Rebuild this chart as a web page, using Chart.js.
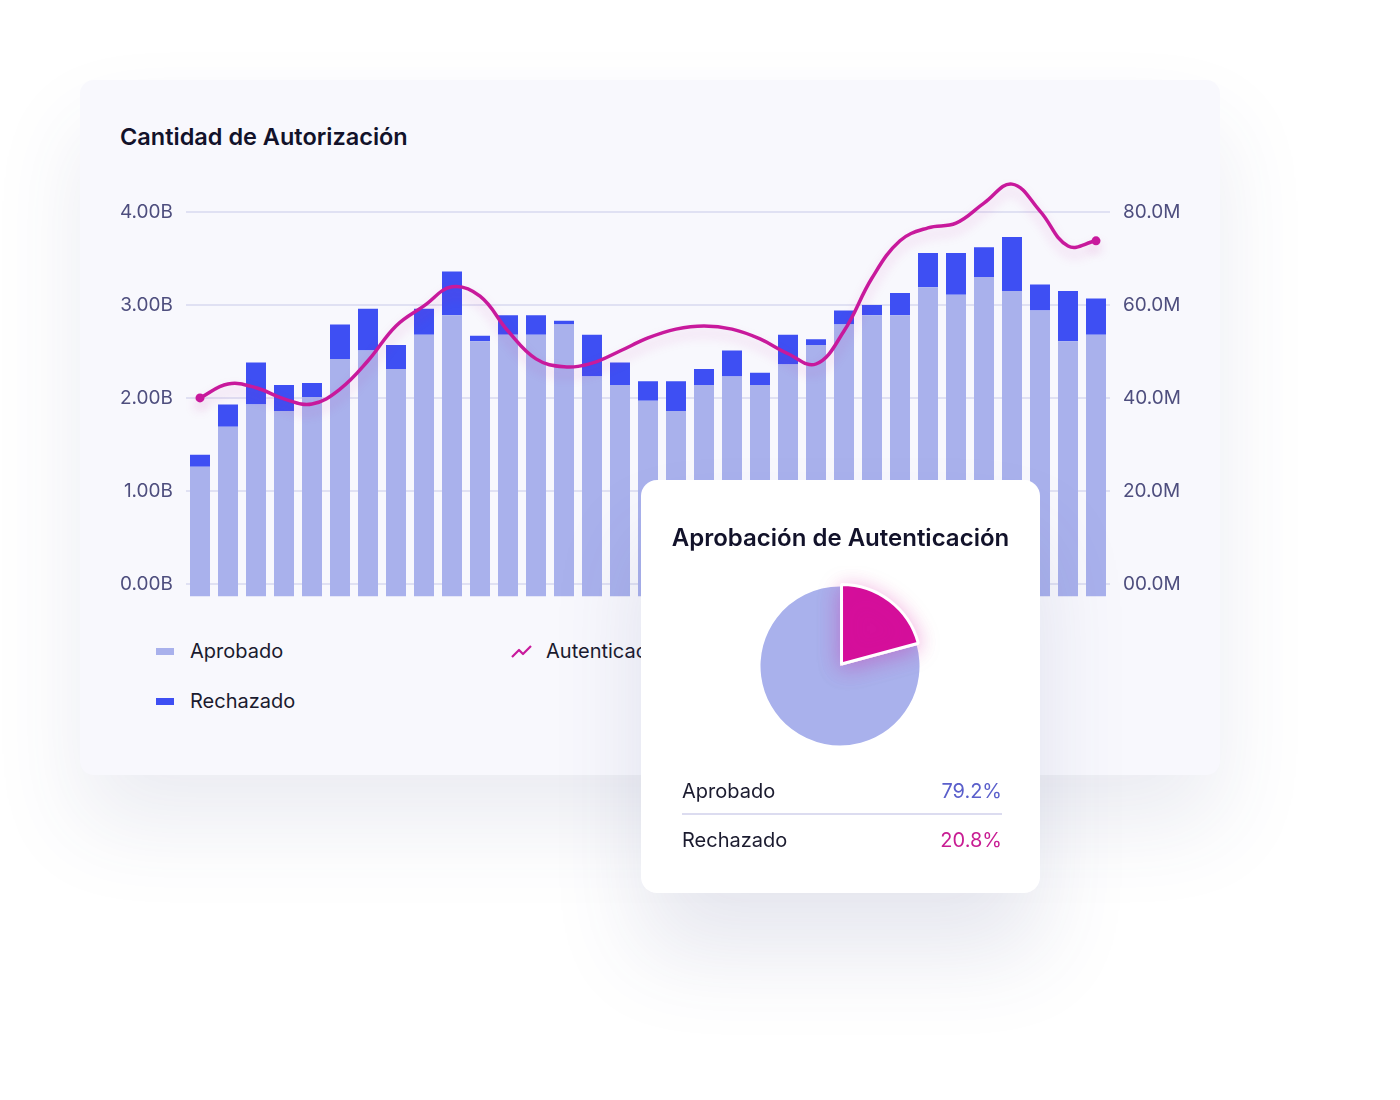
<!DOCTYPE html>
<html lang="es">
<head>
<meta charset="utf-8">
<title>Cantidad de Autorización</title>
<script src="https://cdn.jsdelivr.net/npm/chart.js@4/dist/chart.umd.min.js"></script>
<style>
	html, body { margin: 0; padding: 0; background: #fff; }
	body { width: 1400px; height: 1100px; position: relative; overflow: hidden; font-family: Inter, "Noto Sans", sans-serif; }

	.mainCard { position: absolute; left: 80px; top: 80px; width: 1140px; height: 695px; background: #f8f8fd; border-radius: 14px; box-shadow: 0 50px 90px rgba(60, 70, 130, 0.10); }
	.mainCard h3 { position: absolute; left: 40px; top: 42px; margin: 0; font-size: 23.5px; font-weight: 600; color: #12122a; }
	#barWrap { position: absolute; left: 100px; top: 158px; width: 1110px; height: 463px; }

	.legend { position: absolute; font-size: 20px; color: #1b1b2f; }
	.legend .item { position: absolute; white-space: nowrap; line-height: 24px; }
	.legend .sw { position: absolute; left: 0; top: 9px; width: 18px; height: 7px; }
	.legend .txt { position: absolute; left: 34px; top: 0; }
	.legend svg { position: absolute; left: 0; top: 4px; }

	.pieCard { position: absolute; left: 641px; top: 480px; width: 399px; height: 413px; background: #fff; border-radius: 16px; box-shadow: 0 60px 90px rgba(60, 70, 130, 0.13); }
	.pieCard h4 { margin: 0; position: absolute; left: 0; width: 100%; top: 43px; text-align: center; font-size: 24px; font-weight: 600; color: #12122a; }
	#pieWrap { position: absolute; left: 99px; top: 86px; width: 200px; height: 200px; }
	.pieList { position: absolute; left: 41px; top: 296px; width: 320px; font-size: 20px; color: #1b1b2f; }
	.pieList .row { position: relative; height: 37px; line-height: 30px; }
	.pieList .row + .row { border-top: 2px solid #dcdcf0; }
	.pieList .row span.pct { position: absolute; right: 0; top: 0; }
	.pieList .row + .row span { top: 10px; position: absolute; }
</style>
</head>
<body>

<div class="mainCard"><h3>Cantidad de Autorización</h3></div>
<div id="barWrap"><canvas id="barChart"></canvas></div>
<div class="legend" id="barLegend"></div>

<div class="pieCard">
	<h4>Aprobación de Autenticación</h4>
	<div id="pieWrap"><canvas id="pieChart"></canvas></div>
	<div class="pieList" id="pieList"></div>
</div>

<script>
// 데이터
var periods = ["1","2","3","4","5","6","7","8","9","10","11","12","13","14","15","16","17","18","19","20","21","22","23","24","25","26","27","28","29","30","31","32","33"];
// 승인 (B)
var aprobado = [1.26, 1.69, 1.93, 1.86, 2.01, 2.42, 2.51, 2.31, 2.68, 2.89, 2.61, 2.68, 2.68, 2.79, 2.23, 2.14, 1.97, 1.86, 2.14, 2.23, 2.14, 2.36, 2.57, 2.79, 2.89, 2.89, 3.19, 3.11, 3.30, 3.15, 2.94, 2.61, 2.68];
// 거절 (B)
var rechazado = [0.13, 0.24, 0.45, 0.28, 0.15, 0.37, 0.45, 0.26, 0.28, 0.47, 0.06, 0.21, 0.21, 0.04, 0.45, 0.24, 0.21, 0.32, 0.17, 0.28, 0.13, 0.32, 0.06, 0.15, 0.11, 0.24, 0.37, 0.45, 0.32, 0.58, 0.28, 0.54, 0.39];
// 인증 (M)
var autenticacion = [40.0, 43.0, 42.2, 39.8, 38.7, 41.9, 48.0, 55.5, 59.8, 63.9, 61.9, 54.4, 48.4, 46.7, 47.5, 50.1, 52.9, 54.8, 55.5, 54.8, 52.7, 49.5, 47.3, 54.4, 65.8, 73.8, 76.6, 77.6, 81.9, 86.0, 80.2, 72.7, 73.8];
var leftTicks = [0, 1, 2, 3, 4];
var rightTicks = [0, 20, 40, 60, 80];

// 파이
var pieLabels = ["Aprobado", "Rechazado"];
var pieValues = [79.2, 20.8];

var colAprobado = "#a9b1ec";
var colRechazado = "#3e4ff3";
var colLine = "#c8199c";
var colPie = ["#a9b1ec", "#d50f9b"];
var colPct = ["#5a5fcb", "#c81d93"];
var tickColor = "#4e4e7e";
var gridColor = "#e0e1f3";

var leftMin = -0.137;
var leftMax = 4;
var rightMin = leftMin * 20;
var rightMax = 80;

// 라인 그림자
var lineShadow = {
	id: "lineShadow",
	beforeDatasetDraw: function (chart, args) {
		if (args.meta.type !== "line") return;
		var c = chart.ctx;
		c.save();
		c.shadowColor = "rgba(200, 25, 156, 0.22)";
		c.shadowBlur = 12;
		c.shadowOffsetY = 7;
	},
	afterDatasetDraw: function (chart, args) {
		if (args.meta.type !== "line") return;
		chart.ctx.restore();
	}
};

// 파이 조각 그림자
var sliceGlow = {
	id: "sliceGlow",
	afterDatasetDraw: function (chart, args) {
		var arc = args.meta.data[1];
		if (!arc) return;
		var c = chart.ctx;
		c.save();
		c.shadowColor = "rgba(213, 15, 155, 0.35)";
		c.shadowBlur = 22;
		c.shadowOffsetY = 4;
		arc.draw(c);
		c.restore();
	}
};

window.onload = function () {

	// 범례
	var legend = document.getElementById("barLegend");
	legend.innerHTML =
		'<div class="item" style="left:156px;top:639px"><span class="sw" style="background:' + colAprobado + '"></span><span class="txt">Aprobado</span></div>' +
		'<div class="item" style="left:156px;top:689px"><span class="sw" style="background:' + colRechazado + '"></span><span class="txt">Rechazado</span></div>' +
		'<div class="item" style="left:511px;top:639px"><svg width="21" height="16"><polyline points="1,14 8,7 12,11 20,3" fill="none" stroke="' + colLine + '" stroke-width="2.2" stroke-linejoin="round"/></svg><span class="txt" style="left:35px">Autenticación</span></div>';

	var ctx = document.getElementById("barChart").getContext("2d");
	var barChart = new Chart(ctx, {
		type: "bar",
		data: {
			labels: periods,
			datasets: [{
				type: "line",
				label: "Autenticación",
				data: autenticacion,
				yAxisID: "y1",
				borderColor: colLine,
				backgroundColor: colLine,
				borderWidth: 3.5,
				tension: 0.4,
				clip: false,
				order: 0,
				pointRadius: function (c) {
					return (c.dataIndex === 0 || c.dataIndex === autenticacion.length - 1) ? 4.5 : 0;
				},
				pointBorderWidth: 0
			}, {
				label: "Aprobado",
				data: aprobado,
				backgroundColor: colAprobado,
				stack: "s",
				base: leftMin,
				order: 1,
				barPercentage: 0.714,
				categoryPercentage: 1
			}, {
				label: "Rechazado",
				data: rechazado,
				backgroundColor: colRechazado,
				stack: "s",
				order: 1,
				barPercentage: 0.714,
				categoryPercentage: 1
			}]
		},
		options: {
			responsive: true,
			maintainAspectRatio: false,
			animation: false,
			events: [],
			layout: { padding: { top: 54, bottom: 14.3, left: 0, right: 0 } },
			plugins: { legend: { display: false }, tooltip: { enabled: false } },
			scales: {
				x: { display: false, stacked: true },
				y: {
					position: "left",
					stacked: true,
					min: leftMin,
					max: leftMax,
					afterBuildTicks: function (s) {
						s.ticks = leftTicks.map(function (v) { return { value: v }; });
					},
					afterFit: function (s) { s.width = 86; },
					border: { display: false },
					grid: { color: gridColor, lineWidth: 2, drawTicks: false },
					ticks: {
						padding: 13,
						color: tickColor,
						font: { family: "Inter", size: 19 },
						callback: function (v) { return Number(v).toFixed(2) + "B"; }
					}
				},
				y1: {
					position: "right",
					min: rightMin,
					max: rightMax,
					afterBuildTicks: function (s) {
						s.ticks = rightTicks.map(function (v) { return { value: v }; });
					},
					afterFit: function (s) { s.width = 100; },
					border: { display: false },
					grid: { display: false, drawTicks: false },
					ticks: {
						padding: 13,
						color: tickColor,
						font: { family: "Inter", size: 19 },
						callback: function (v) { return v === 0 ? "00.0M" : Number(v).toFixed(1) + "M"; }
					}
				}
			}
		},
		plugins: [lineShadow]
	});

	// 파이 차트
	var pctx = document.getElementById("pieChart").getContext("2d");
	var pieChart = new Chart(pctx, {
		type: "pie",
		data: {
			labels: pieLabels,
			datasets: [{
				data: pieValues,
				backgroundColor: colPie,
				borderColor: "#ffffff",
				borderWidth: [0, 3],
				offset: [0, 10]
			}]
		},
		options: {
			responsive: true,
			maintainAspectRatio: false,
			animation: false,
			events: [],
			rotation: pieValues[1] * 3.6,
			layout: { padding: 14 },
			plugins: { legend: { display: false }, tooltip: { enabled: false } }
		},
		plugins: [sliceGlow]
	});

	// 파이 목록
	var html = "";
	for (var i = 0; i < pieLabels.length; i++) {
		html += '<div class="row"><span>' + pieLabels[i] + '</span><span class="pct" style="color:' + colPct[i] + '">' + pieValues[i].toFixed(1) + '%</span></div>';
	}
	document.getElementById("pieList").innerHTML = html;
};
</script>
</body>
</html>
